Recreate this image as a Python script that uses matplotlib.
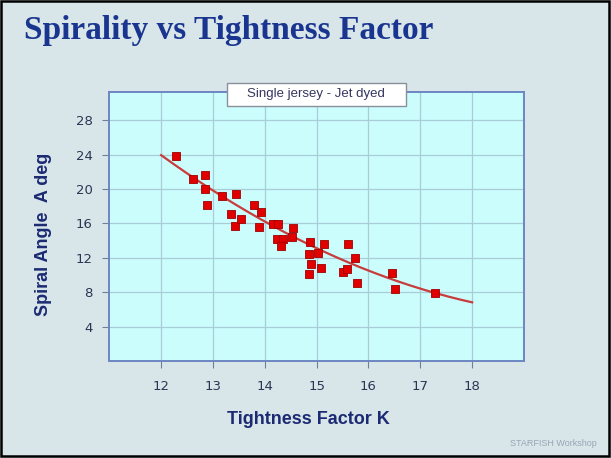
import matplotlib.pyplot as plt
from matplotlib.patches import Rectangle
import numpy as np

# tightness factor K and spiral angle (deg)
tightness = [12.28, 12.62, 12.84, 12.85, 12.89, 13.18, 13.45, 13.34, 13.43, 13.55,
             13.79, 13.93, 13.89, 14.16, 14.25, 14.24, 14.36, 14.32, 14.55, 14.53,
             14.87, 14.86, 15.02, 14.90, 14.86, 15.14, 15.08, 15.60, 15.74, 15.51,
             15.58, 15.78, 16.46, 16.52, 17.29]
spiral_angle = [23.86, 21.15, 21.65, 19.98, 18.09, 19.21, 19.48, 17.08, 15.65, 16.54,
                18.09, 17.35, 15.53, 15.92, 15.92, 14.14, 14.14, 13.36, 15.41, 14.41,
                13.87, 12.43, 12.59, 11.31, 10.07, 13.56, 10.84, 13.56, 11.97, 10.38,
                10.73, 9.06, 10.19, 8.40, 7.94]

# trendline as drawn on the slide, read at each K tick
trend_k = [12, 13, 14, 15, 16, 17, 18]
trend_angle = [23.94, 19.83, 16.22, 13.12, 10.51, 8.42, 6.82]

x_ticks = [12, 13, 14, 15, 16, 17, 18]
y_ticks = [4, 8, 12, 16, 20, 24, 28]

W, H = 611, 458
fig = plt.figure(figsize=(W / 100, H / 100), dpi=100)
fig.patch.set_facecolor("#d9e6e9")

ax = fig.add_axes([109.3 / W, 1 - 361 / H, (524 - 109.3) / W, (361 - 92.3) / H])
ax.set_facecolor("#ccfdfd")

# 2nd order polynomial trendline through the read values
coef = np.polyfit(trend_k, trend_angle, 2)
k = np.linspace(trend_k[0], trend_k[-1], 200)
ax.plot(k, np.polyval(coef, k), color="#c83c3c", lw=1.6, zorder=3)

ax.scatter(tightness, spiral_angle, marker="s", s=26, color="#e00000",
           edgecolor="#a00000", linewidth=0.6, zorder=4)

ax.set_xlim(11, 19)
ax.set_ylim(0, 31.25)
ax.set_xticks(x_ticks)
ax.set_yticks(y_ticks)
ax.grid(True, color="#a9cdd6", lw=0.9)
ax.set_axisbelow(True)
for s in ax.spines.values():
    s.set_color("#6d86c2")
    s.set_linewidth(1.4)
ax.tick_params(axis="both", direction="out", length=5, color="#6d7f99",
               labelsize=9.5, labelcolor="#2b3553")
ax.tick_params(axis="x", pad=9)
ax.tick_params(axis="y", pad=7)

navy = "#1b2a72"
fig.text(24 / W, 1 - 39 / H, "Spirality vs Tightness Factor", family="Liberation Serif",
         fontweight="bold", fontsize=24, color="#1a3590", va="baseline", ha="left")
fig.text(308 / W, 1 - 419 / H, "Tightness Factor K", fontweight="bold", fontsize=13,
         color=navy, ha="center", va="center", family="Liberation Sans")
fig.text(43 / W, 1 - 234 / H, "Spiral Angle  A deg", fontweight="bold", fontsize=13,
         color=navy, ha="center", va="center", rotation=90, family="Liberation Sans")

# series caption box
fig.patches.append(Rectangle((226.7 / W, 1 - 105.7 / H), 179.3 / W, 22.4 / H,
                             transform=fig.transFigure, facecolor="white",
                             edgecolor="#8a8f9c", lw=1, zorder=5))
fig.text(316 / W, 1 - 94.5 / H, "Single jersey - Jet dyed", fontsize=9.5, color="#34365e",
         ha="center", va="center", family="Liberation Sans", zorder=6)

fig.text(597 / W, 1 - 444 / H, "STARFISH Workshop", fontsize=6.5, color="#9aa3b5",
         ha="right", va="center", family="Liberation Sans")

# slide frame
fig.patches.append(Rectangle((0.002, 0.004), 0.995, 0.993, transform=fig.transFigure,
                             facecolor="none", edgecolor="black", lw=1.8, zorder=10))

fig.savefig("out.png", dpi=100, facecolor=fig.get_facecolor())
